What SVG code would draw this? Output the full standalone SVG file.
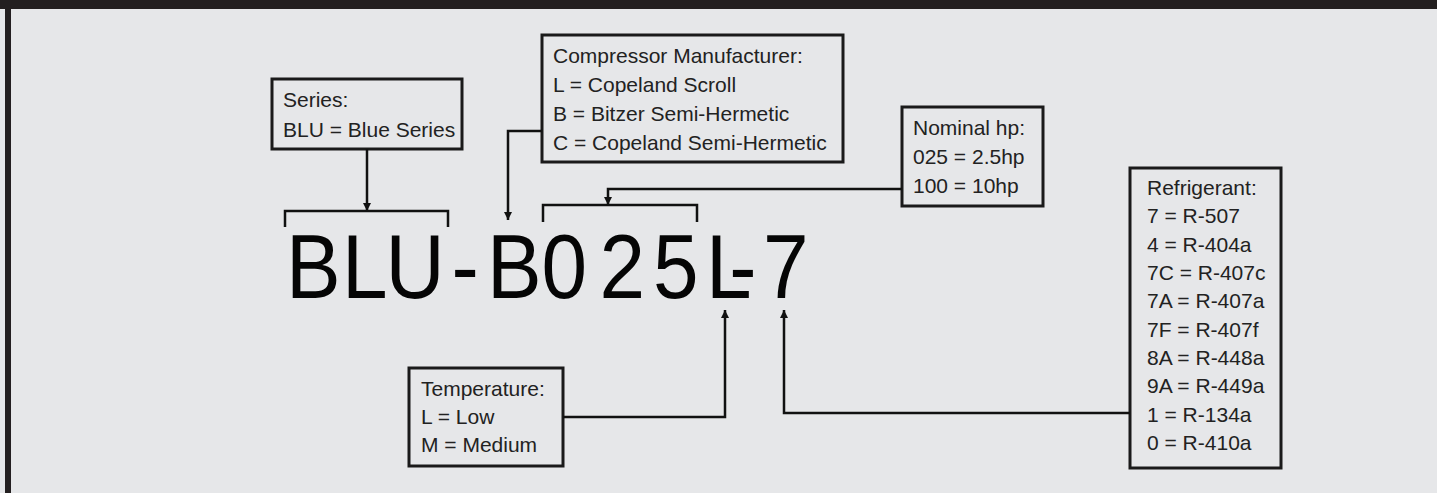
<svg xmlns="http://www.w3.org/2000/svg" width="1437" height="493" viewBox="0 0 1437 493">
<defs>
<style>
.box{fill:#e6e7e9;stroke:#1a1a1a;stroke-width:3}
.lbl{font-family:"Liberation Sans",Arial,sans-serif;font-size:21px;fill:#222}
.big{font-family:"Liberation Sans",Arial,sans-serif;font-size:91px;fill:#050505}
.ln{fill:none;stroke:#111;stroke-width:2.5}
</style>
<marker id="ah" markerUnits="userSpaceOnUse" markerWidth="10" markerHeight="10" refX="8" refY="4" orient="auto">
<path d="M0,0 L8,4 L0,8 Z" fill="#111"/>
</marker>
</defs>
<rect x="0" y="0" width="1437" height="493" fill="#e6e7e9"/>
<rect x="0" y="0" width="1437" height="9" fill="#231f20"/>
<rect x="5" y="0" width="6" height="493" fill="#231f20"/>

<g id="code">
<text class="big" transform="scale(0.9,1)" x="317.8 380.1 428.3 501.6 541.2 601.8 666.2 725.7 784.5 810.4 847.7" y="298">BLU-B025L-7</text>
</g>

<g id="series">
<rect class="box" x="272" y="79" width="190" height="70"/>
<text class="lbl" x="283" y="107">Series:</text>
<text class="lbl" x="283" y="137">BLU = Blue Series</text>
</g>

<g id="compressor">
<rect class="box" x="542" y="35" width="301" height="127"/>
<text class="lbl" x="553" y="63">Compressor Manufacturer:</text>
<text class="lbl" x="553" y="92">L = Copeland Scroll</text>
<text class="lbl" x="553" y="121">B = Bitzer Semi-Hermetic</text>
<text class="lbl" x="553" y="150">C = Copeland Semi-Hermetic</text>
</g>

<g id="nominal">
<rect class="box" x="902" y="107" width="141" height="99"/>
<text class="lbl" x="913" y="135">Nominal hp:</text>
<text class="lbl" x="913" y="164">025 = 2.5hp</text>
<text class="lbl" x="913" y="193">100 = 10hp</text>
</g>

<g id="temperature">
<rect class="box" x="409" y="368" width="154" height="98"/>
<text class="lbl" x="421" y="396">Temperature:</text>
<text class="lbl" x="421" y="424">L = Low</text>
<text class="lbl" x="421" y="452">M = Medium</text>
</g>

<g id="refrigerant">
<rect class="box" x="1130" y="168" width="151" height="300"/>
<text class="lbl" x="1147" y="195">Refrigerant:</text>
<text class="lbl" x="1147" y="223">7 = R-507</text>
<text class="lbl" x="1147" y="252">4 = R-404a</text>
<text class="lbl" x="1147" y="280">7C = R-407c</text>
<text class="lbl" x="1147" y="308">7A = R-407a</text>
<text class="lbl" x="1147" y="337">7F = R-407f</text>
<text class="lbl" x="1147" y="365">8A = R-448a</text>
<text class="lbl" x="1147" y="393">9A = R-449a</text>
<text class="lbl" x="1147" y="422">1 = R-134a</text>
<text class="lbl" x="1147" y="450">0 = R-410a</text>
</g>

<g id="connectors">
<path class="ln" d="M285,227 V211 H448 V227"/>
<path class="ln" d="M543,222 V205 H697 V222"/>
<path class="ln" d="M367,149 V211" marker-end="url(#ah)"/>
<path class="ln" d="M542,131 H508 V220" marker-end="url(#ah)"/>
<path class="ln" d="M902,189 H608 V205" marker-end="url(#ah)"/>
<path class="ln" d="M563,417 H725 V310" marker-end="url(#ah)"/>
<path class="ln" d="M1130,413 H784 V310" marker-end="url(#ah)"/>
</g>
</svg>
